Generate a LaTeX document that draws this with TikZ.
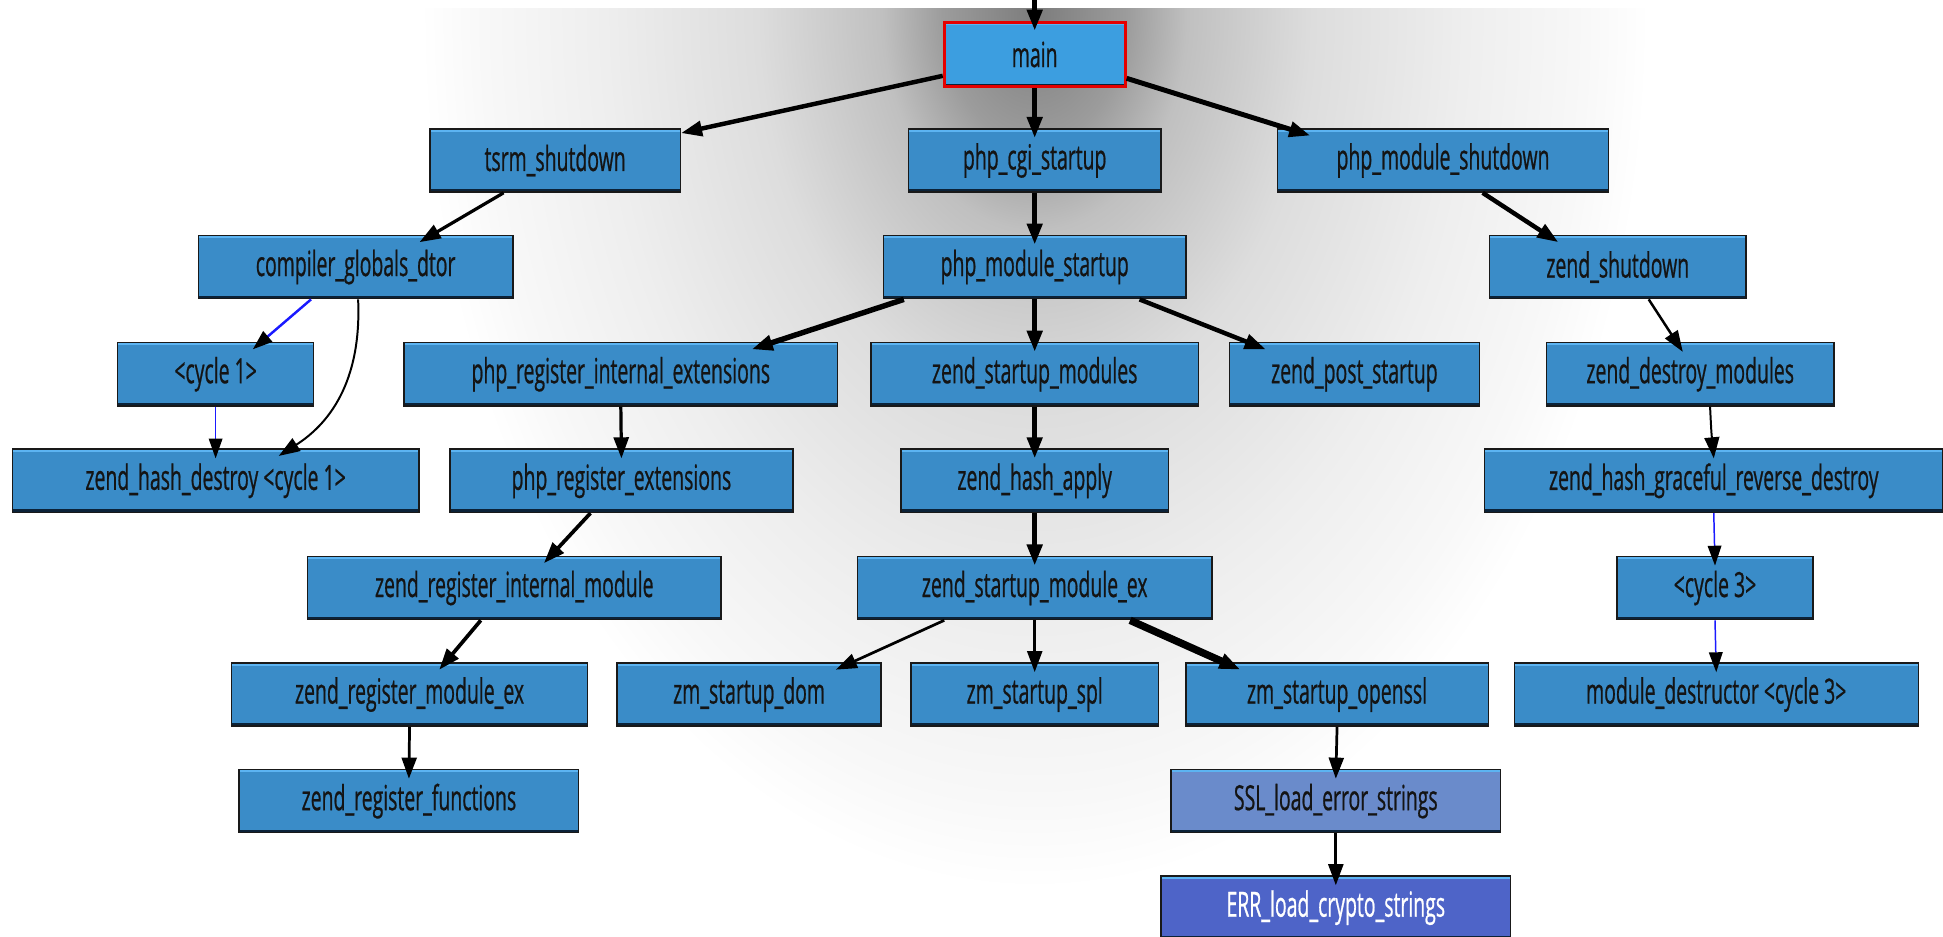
\documentclass[tikz,border=0pt]{standalone}
\usepackage{fontspec}
\newfontfamily\callfont[FakeStretch=0.56,FakeBold=0.6]{Open Sans}
\usetikzlibrary{arrows.meta}

\definecolor{callblue}{HTML}{3A8CC8}
\definecolor{mainblue}{HTML}{3C9EE0}
\definecolor{sslblue}{HTML}{6A8BCB}
\definecolor{errblue}{HTML}{4E64C8}
\definecolor{cycleedge}{HTML}{1A1AFF}
\definecolor{shadowedge}{HTML}{0B2238}
\definecolor{glossedge}{HTML}{5CB4F2}
\definecolor{glowa}{HTML}{7C7C7C}
\definecolor{glowb}{HTML}{9C9C9C}
\definecolor{glowc}{HTML}{C0C0C0}
\definecolor{glowd}{HTML}{DDDDDD}
\definecolor{glowe}{HTML}{EEEEEE}
\definecolor{glowf}{HTML}{F8F8F8}

% soft grey halo behind the call tree (the path's box edge sits at 17.7bp of the shading)
\pgfdeclareradialshading{halo}{\pgfpoint{0bp}{0bp}}{%
  color(0bp)=(glowa);color(2.65bp)=(glowb);color(4.4bp)=(glowc);%
  color(8bp)=(glowd);color(12.4bp)=(glowe);color(15.9bp)=(glowf);%
  color(17.7bp)=(white);color(50bp)=(white)}

\tikzset{
  callbox/.style={rectangle, draw=black!90, line width=0.6pt, fill=callblue,
    minimum height=25.5pt, inner sep=0pt, text=black!92,
    font=\callfont\fontsize{14}{16}\selectfont,
    path picture={
      \draw[shadowedge, line width=2.4pt] (path picture bounding box.south west) -- (path picture bounding box.south east);
      \draw[glossedge, line width=0.8pt] ([yshift=-0.7pt]path picture bounding box.north west) -- ([yshift=-0.7pt]path picture bounding box.north east);
    }},
  mainbox/.style={fill=mainblue, draw=red!90!black, line width=1.2pt, minimum height=26pt},
  call/.style={draw=black, -{Triangle[length=8.5pt,width=6pt]}},
  cyc/.style={draw=cycleedge, line width=0.6pt, -{Triangle[length=8pt,width=5.5pt,color=black]}},
}

\begin{document}
\begin{tikzpicture}[x=0.5pt, y=-0.5pt]
\useasboundingbox (0,0) rectangle (1568,756);
\fill[white] (0,0) rectangle (1568,756);
\begin{scope}
  \clip (0,7) rectangle (1568,756);
  \shade[shading=halo] (135,-990) rectangle (1535,1010);
\end{scope}

% rows
\def\ra{129.5}\def\rb{215.5}\def\rc{302}\def\rd{388}
\def\re{474.5}\def\rf{560.5}\def\rg{646.5}\def\rh{732.5}

\coordinate (entry) at (835,0);
\node[callbox, mainbox, minimum width=73pt] (main) at (835,44) {main};

\node[callbox, minimum width=101pt]   (tsrm)  at (448,\ra)    {tsrm\_shutdown};
\node[callbox, minimum width=102pt]   (cgi)   at (835,\ra)    {php\_cgi\_startup};
\node[callbox, minimum width=133.5pt] (pmsd)  at (1164.5,\ra) {php\_module\_shutdown};

\node[callbox, minimum width=127pt]   (cgd)   at (287,\rb)    {compiler\_globals\_dtor};
\node[callbox, minimum width=122pt]   (pmst)  at (835,\rb)    {php\_module\_startup};
\node[callbox, minimum width=103.5pt] (zsd)   at (1305.5,\rb) {zend\_shutdown};

\node[callbox, minimum width=79pt]    (cyc1)  at (174,\rc)    {<cycle 1>};
\node[callbox, minimum width=175pt]   (prie)  at (501,\rc)    {php\_register\_internal\_extensions};
\node[callbox, minimum width=132pt]   (zsm)   at (835,\rc)    {zend\_startup\_modules};
\node[callbox, minimum width=101pt]   (zps)   at (1093,\rc)   {zend\_post\_startup};
\node[callbox, minimum width=116pt]   (zdm)   at (1364,\rc)   {zend\_destroy\_modules};

\node[callbox, minimum width=164pt]   (zhd)   at (174,\rd)    {zend\_hash\_destroy <cycle 1>};
\node[callbox, minimum width=138.5pt] (pre)   at (501.5,\rd)  {php\_register\_extensions};
\node[callbox, minimum width=108pt]   (zha)   at (835,\rd)    {zend\_hash\_apply};
\node[callbox, minimum width=185pt]   (zhgrd) at (1383,\rd)   {zend\_hash\_graceful\_reverse\_destroy};

\node[callbox, minimum width=167pt]   (zrim)  at (415,\re)    {zend\_register\_internal\_module};
\node[callbox, minimum width=143pt]   (zsme)  at (835,\re)    {zend\_startup\_module\_ex};
\node[callbox, minimum width=79pt]    (cyc3)  at (1384,\re)   {<cycle 3>};

\node[callbox, minimum width=143.5pt] (zrme)  at (330.5,\rf)  {zend\_register\_module\_ex};
\node[callbox, minimum width=106.5pt] (zmdom) at (604.5,\rf)  {zm\_startup\_dom};
\node[callbox, minimum width=100pt]   (zmspl) at (835,\rf)    {zm\_startup\_spl};
\node[callbox, minimum width=122pt]   (zmssl) at (1079,\rf)   {zm\_startup\_openssl};
\node[callbox, minimum width=163pt]   (mdtor) at (1385,\rf)   {module\_destructor <cycle 3>};

\node[callbox, minimum width=137pt]   (zrf)   at (330,\rg)    {zend\_register\_functions};
\node[callbox, minimum width=133pt, fill=sslblue] (ssl) at (1078,\rg) {SSL\_load\_error\_strings};
\node[callbox, minimum width=141pt, fill=errblue, text=white] (err) at (1078,\rh) {ERR\_load\_crypto\_strings};

% calls; each tip reaches a little way into the callee's box
\draw[call, line width=2pt]   (entry) -- ([yshift=-4pt]main.north);
\draw[call, line width=1.8pt] ([yshift=5pt]main.south west) -- ([yshift=-2pt]tsrm.north east);
\draw[call, line width=2pt]   (main.south) -- ([yshift=-4pt]cgi.north);
\draw[call, line width=2pt]   ([yshift=4pt]main.south east) -- ([xshift=13.5pt,yshift=-3pt]pmsd.north west);
\draw[call, line width=1.3pt] ([xshift=30pt]tsrm.south west) -- ([xshift=-38pt,yshift=-3pt]cgd.north east);
\draw[call, line width=2pt]   (cgi.south) -- ([yshift=-4pt]pmst.north);
\draw[call, line width=1.8pt] ([xshift=16pt]pmsd.south) -- ([xshift=-24pt,yshift=-3pt]zsd.north);
\draw[cyc, line width=1pt]    ([xshift=-18pt]cgd.south) -- ([xshift=15pt,yshift=-3pt]cyc1.north);
\draw[call, line width=0.8pt] ([xshift=1pt]cgd.south) .. controls (292,310) and (264,343) .. ([xshift=25.5pt,yshift=-3pt]zhd.north);
\draw[cyc]                    (cyc1.south) -- ([yshift=-4pt]zhd.north);
\draw[call, line width=2.2pt] ([xshift=8.5pt]pmst.south west) -- ([xshift=-35pt,yshift=-3pt]prie.north east);
\draw[call, line width=2pt]   (pmst.south) -- ([yshift=-4pt]zsm.north);
\draw[call, line width=1.8pt] ([xshift=-19pt]pmst.south east) -- ([xshift=15pt,yshift=-3pt]zps.north west);
\draw[call, line width=1pt]   ([xshift=12.5pt]zsd.south) -- ([xshift=-3pt,yshift=-4pt]zdm.north);
\draw[call, line width=1.3pt] (prie.south) -- ([yshift=-4pt]pre.north);
\draw[call, line width=2pt]   (zsm.south) -- ([yshift=-4pt]zha.north);
\draw[call, line width=0.8pt] ([xshift=8pt]zdm.south) .. controls (1381,348) .. ([yshift=-4pt]zhgrd.north);
\draw[call, line width=1.5pt] ([xshift=-12.5pt]pre.south) -- ([xshift=12pt,yshift=-3pt]zrim.north);
\draw[call, line width=2pt]   (zha.south) -- ([yshift=-4pt]zsme.north);
\draw[cyc]                    (zhgrd.south) -- ([yshift=-4pt]cyc3.north);
\draw[call, line width=1.5pt] ([xshift=-13.5pt]zrim.south) -- ([xshift=12pt,yshift=-3pt]zrme.north);
\draw[call, line width=1.1pt] ([xshift=-36.5pt]zsme.south) -- ([xshift=35pt,yshift=-3pt]zmdom.north);
\draw[call, line width=1.1pt] (zsme.south) -- ([yshift=-4pt]zmspl.north);
\draw[call, line width=3pt]   ([xshift=38.5pt]zsme.south) -- ([xshift=-39pt,yshift=-3pt]zmssl.north);
\draw[cyc]                    (cyc3.south) -- ([yshift=-4pt]mdtor.north);
\draw[call, line width=1.1pt] (zrme.south) -- ([yshift=-4pt]zrf.north);
\draw[call, line width=1.1pt] (zmssl.south) -- ([yshift=-4pt]ssl.north);
\draw[call, line width=1.1pt] (ssl.south) -- ([yshift=-4pt]err.north);
\end{tikzpicture}
\end{document}
